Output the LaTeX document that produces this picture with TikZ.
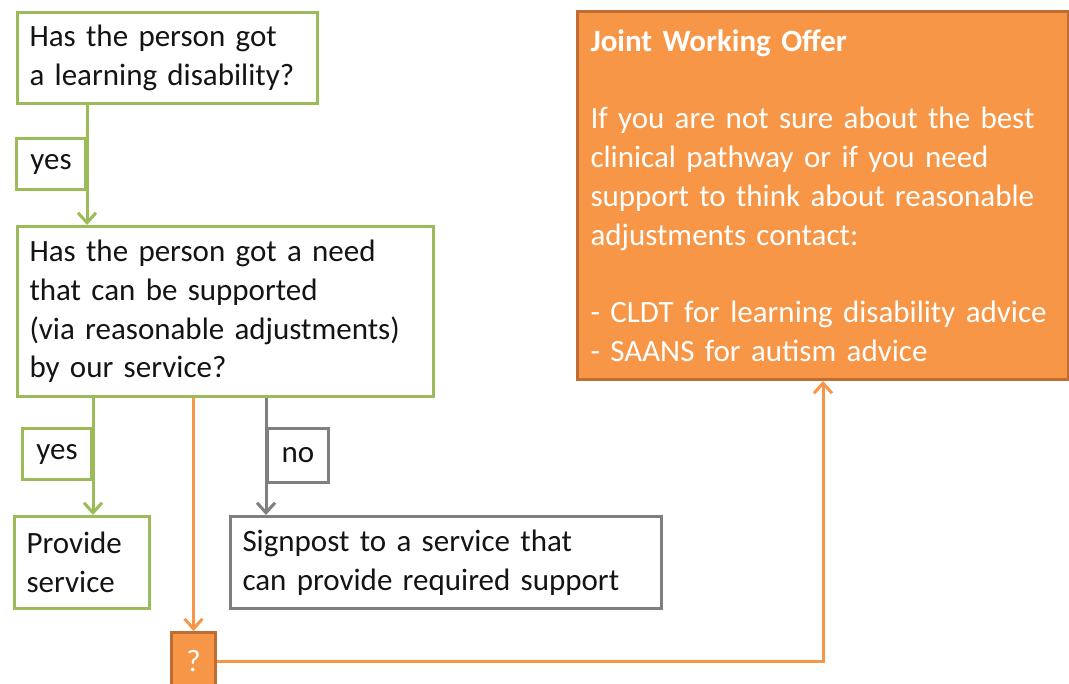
\documentclass[tikz,border=0pt]{standalone}
\usepackage{fontspec}
\setmainfont{Carlito}
\usepackage{xcolor}
\usetikzlibrary{arrows.meta, positioning, calc}

\definecolor{ldgreen}{RGB}{155,187,89}
\definecolor{ldgrey}{RGB}{127,127,127}
\definecolor{ldorange}{RGB}{247,150,70}
\definecolor{ldorangedark}{RGB}{190,110,50}
\definecolor{ldtext}{RGB}{20,20,20}

\begin{document}
\begin{tikzpicture}[
    x=0.5pt, y=-0.5pt,
    every node/.style={font=\fontsize{15.5}{19.4}\selectfont, text=ldtext},
    greenbox/.style={rectangle, draw=ldgreen, line width=1.5pt, fill=white, align=left, inner xsep=6pt, anchor=north west},
    greybox/.style={rectangle, draw=ldgrey, line width=1.5pt, fill=white, align=left, inner xsep=6pt, anchor=north west},
    offerbox/.style={rectangle, draw=ldorangedark, line width=1.5pt, fill=ldorange, align=left, inner xsep=6.5pt, anchor=north west, text=white},
    querybox/.style={rectangle, draw=ldorangedark, line width=1.5pt, fill=ldorange, text=white, anchor=north west, minimum width=22pt, minimum height=28.5pt, inner sep=0pt},
    greenlabel/.style={rectangle, draw=ldgreen, line width=1.5pt, fill=white, minimum width=34.5pt, minimum height=25.5pt, inner sep=0pt},
    greylabel/.style={rectangle, draw=ldgrey, line width=1.5pt, fill=white, minimum width=30.5pt, minimum height=27pt, inner sep=0pt},
    greenarrow/.style={draw=ldgreen, line width=1.5pt, -{Straight Barb[length=5pt,width=9pt]}},
    greyarrow/.style={draw=ldgrey, line width=1.5pt, -{Straight Barb[length=5pt,width=9pt]}},
    orangearrow/.style={draw=ldorange, line width=1.5pt, -{Straight Barb[length=5pt,width=9pt]}}
]

\fill[white] (0,0) rectangle (1069,684);
\useasboundingbox (0,0) rectangle (1069,684);

% Questions
\node (learning) [greenbox, text width=138pt, minimum height=45.5pt] at (16,11) {Has the person got\\a learning disability?};
\node (need) [greenbox, text width=196pt, minimum height=85pt] at (16,225) {Has the person got a need\\that can be supported\\(via reasonable adjustments)\\by our service?};

% Outcomes
\node (provide) [greenbox, text width=55.5pt, minimum height=46pt] at (13,515) {Provide\\service};
\node (signpost) [greybox, text width=203.5pt, minimum height=46pt] at (229,515) {Signpost to a service that\\can provide required support};

% Joint working offer
\node (offer) [offerbox, text width=232.5pt, minimum height=184pt] at (576,10) {\textbf{Joint Working Offer}\\[19.4pt]If you are not sure about the best\\clinical pathway or if you need\\support to think about reasonable\\adjustments contact:\\[19.4pt]- CLDT for learning disability advice\\- SAANS for autism advice};
\node (query) [querybox] at (170,631) {?};

% Answers
\node (yesfirst) [greenlabel, anchor=north east] at (87,137) {yes};
\node (yessecond) [greenlabel, anchor=north east] at (93,427) {yes};
\node (no) [greylabel, anchor=north west] at (266,427) {no};

% Arrows
\draw [greenarrow] (yesfirst.east |- learning.south) -- (yesfirst.east |- need.north);
\draw [greenarrow] (yessecond.east |- need.south) -- (yessecond.east |- provide.north);
\draw [greyarrow] (no.west |- need.south) -- (no.west |- signpost.north);
\draw [orangearrow] (query.north |- need.south) -- (query.north);
\draw [orangearrow] (query.east) -| (offer.south);

\end{tikzpicture}
\end{document}
